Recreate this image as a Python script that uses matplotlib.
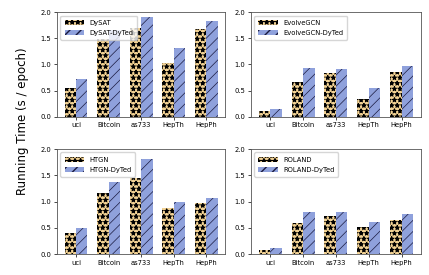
import matplotlib.pyplot as plt
import numpy as np

datasets = ["uci", "Bitcoin", "as733", "HepTh", "HepPh"]
models = ["DySAT", "EvolveGCN", "HTGN", "ROLAND"]

# running time (s / epoch): base model vs. model + DyTed
base = {
    "DySAT": [0.55, 1.48, 1.70, 1.02, 1.68],
    "EvolveGCN": [0.12, 0.66, 0.83, 0.35, 0.85],
    "HTGN": [0.40, 1.16, 1.44, 0.87, 0.98],
    "ROLAND": [0.07, 0.60, 0.72, 0.52, 0.65],
}
dyted = {
    "DySAT": [0.73, 1.66, 1.90, 1.32, 1.83],
    "EvolveGCN": [0.15, 0.93, 0.92, 0.56, 0.98],
    "HTGN": [0.50, 1.37, 1.81, 1.00, 1.06],
    "ROLAND": [0.12, 0.81, 0.80, 0.61, 0.76],
}

fig = plt.figure(figsize=(4.29, 2.75), dpi=100)
# [left, bottom, width, height]
boxes = [
    [0.133, 0.575, 0.392, 0.381],
    [0.585, 0.575, 0.396, 0.381],
    [0.133, 0.076, 0.392, 0.382],
    [0.585, 0.076, 0.396, 0.382],
]

x = np.arange(len(datasets))
w = 0.35
for m, box in zip(models, boxes):
    ax = fig.add_axes(box)
    with plt.rc_context({'hatch.linewidth': 0.8}):
        ax.bar(x - w / 2, base[m], w, color='#f2d294', edgecolor='black',
               linewidth=0, hatch='***', label=m)
    with plt.rc_context({'hatch.linewidth': 0.5}):
        ax.bar(x + w / 2, dyted[m], w, color='#8fa1dc', edgecolor='#1a1a40',
               linewidth=0, hatch='///', label=m + '-DyTed')
    ax.set_ylim(0, 2.0)
    ax.set_yticks([0, 0.5, 1.0, 1.5, 2.0])
    ax.set_xticks(x)
    ax.set_xticklabels(datasets)
    ax.tick_params(labelsize=4.9, length=2, width=0.5, pad=2)
    for s in ax.spines.values():
        s.set_linewidth(0.6)
        s.set_color('#555555')
    ax.legend(loc='upper left', fontsize=4.9, handlelength=2.8,
              borderpad=0.6, labelspacing=0.6)

fig.text(0.052, 0.56, 'Running Time (s / epoch)', rotation=90,
         ha='center', va='center', fontsize=8.5)

fig.savefig('out.png', dpi=100)
